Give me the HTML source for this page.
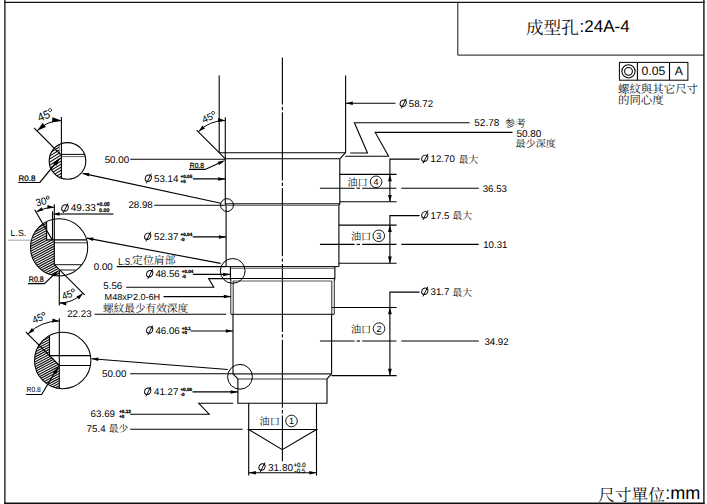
<!DOCTYPE html>
<html><head><meta charset="utf-8"><title>24A-4</title>
<style>
html,body{margin:0;padding:0;background:#fff;overflow:hidden}
svg{display:block}
text{font-family:"Liberation Sans","Noto Serif CJK SC","Noto Sans CJK TC",sans-serif;text-rendering:geometricPrecision}
</style></head><body>
<svg width="707" height="504" viewBox="0 0 707 504">
<rect width="707" height="504" fill="#fff"/>
<defs><clipPath id="k1"><circle cx="67.5" cy="160.9" r="18.3"/></clipPath><clipPath id="h1"><polygon points="40,135 59.3,135 59.3,152.8 61.4,154.6 61.4,185 40,185"/></clipPath><clipPath id="k2"><circle cx="59.1" cy="247.3" r="28.6"/></clipPath><clipPath id="h2"><polygon points="28,215 46.6,215 46.6,239.7 54.4,239.7 54.4,264.6 59.6,269.9 59.6,280 28,280"/></clipPath><clipPath id="k3"><circle cx="62.7" cy="360.5" r="28.2"/></clipPath><clipPath id="h3"><polygon points="30,330 49.5,330 49.5,355.6 59.4,365.5 59.4,392 30,392"/></clipPath></defs>
<line x1="4.90" y1="0.00" x2="4.90" y2="504.00" stroke="#111" stroke-width="1.3"/>
<line x1="703.90" y1="0.00" x2="703.90" y2="504.00" stroke="#111" stroke-width="1.4"/>
<line x1="4.30" y1="2.40" x2="704.60" y2="2.40" stroke="#111" stroke-width="1.2"/>
<line x1="4.30" y1="503.40" x2="704.60" y2="503.40" stroke="#111" stroke-width="1.6"/>
<path d="M457.80 2.40 L457.80 55.10 L704.00 55.10" stroke="#111" stroke-width="1" fill="none" stroke-linejoin="miter"/>
<text x="526.00" y="34.00" font-size="17.6" fill="#111">成型孔</text>
<text x="579.50" y="31.90" font-size="17" fill="#000">:24A-4</text>
<text x="598.20" y="500.70" font-size="16.7" fill="#111">尺寸單位</text>
<text x="665.20" y="499.40" font-size="18.1" fill="#000">:mm</text>
<rect x="619.4" y="62.4" width="68.5" height="17.8" fill="none" stroke="#000" stroke-width="1"/>
<line x1="637.40" y1="62.40" x2="637.40" y2="80.20" stroke="#000" stroke-width="1.1"/>
<line x1="669.50" y1="62.40" x2="669.50" y2="80.20" stroke="#000" stroke-width="1.1"/>
<circle cx="628.50" cy="71.30" r="6.60" stroke="#000" stroke-width="1.05" fill="none"/>
<circle cx="628.50" cy="71.30" r="3.90" stroke="#000" stroke-width="1.05" fill="none"/>
<text x="653.40" y="75.40" font-size="12.2" text-anchor="middle" fill="#000">0.05</text>
<text x="678.70" y="75.40" font-size="12.2" text-anchor="middle" fill="#000">A</text>
<text x="618.00" y="93.10" font-size="11.45" fill="#111">螺紋與其它尺寸</text>
<text x="618.00" y="104.20" font-size="11.45" fill="#111">的同心度</text>
<line x1="282.40" y1="57.6" x2="282.40" y2="461.3" stroke="#000" stroke-width="1.1" stroke-dasharray="68.1 2.2 3.4 2.1" stroke-dashoffset="21.1"/>
<line x1="219.20" y1="75.50" x2="219.20" y2="152.70" stroke="#000" stroke-width="1.1"/>
<line x1="345.60" y1="75.50" x2="345.60" y2="152.70" stroke="#000" stroke-width="1.1"/>
<line x1="219.20" y1="152.70" x2="345.60" y2="152.70" stroke="#000" stroke-width="1.1"/>
<line x1="219.20" y1="152.70" x2="225.30" y2="158.80" stroke="#000" stroke-width="1.1"/>
<line x1="345.60" y1="152.70" x2="339.80" y2="158.80" stroke="#000" stroke-width="1.1"/>
<line x1="225.30" y1="158.80" x2="339.80" y2="158.80" stroke="#000" stroke-width="1.1"/>
<line x1="225.30" y1="158.80" x2="225.30" y2="204.20" stroke="#000" stroke-width="1.1"/>
<line x1="339.80" y1="158.80" x2="339.80" y2="204.20" stroke="#000" stroke-width="1.1"/>
<line x1="225.30" y1="203.80" x2="339.80" y2="203.80" stroke="#000" stroke-width="1"/>
<line x1="226.10" y1="205.30" x2="338.90" y2="205.30" stroke="#555" stroke-width="1"/>
<line x1="225.30" y1="203.80" x2="226.10" y2="205.30" stroke="#000" stroke-width="1.1"/>
<line x1="339.80" y1="203.80" x2="338.90" y2="205.30" stroke="#000" stroke-width="1.1"/>
<line x1="226.10" y1="205.30" x2="226.10" y2="266.60" stroke="#000" stroke-width="1.1"/>
<line x1="338.90" y1="205.30" x2="338.90" y2="266.60" stroke="#000" stroke-width="1.1"/>
<line x1="226.10" y1="266.60" x2="338.90" y2="266.60" stroke="#000" stroke-width="1"/>
<line x1="230.40" y1="268.20" x2="334.90" y2="268.20" stroke="#555" stroke-width="1.1"/>
<line x1="230.40" y1="266.60" x2="230.40" y2="278.50" stroke="#000" stroke-width="1.1"/>
<line x1="334.90" y1="266.60" x2="334.90" y2="278.50" stroke="#000" stroke-width="1.1"/>
<line x1="230.40" y1="278.50" x2="334.90" y2="278.50" stroke="#000" stroke-width="1"/>
<line x1="233.10" y1="281.00" x2="331.90" y2="281.00" stroke="#555" stroke-width="1.1"/>
<line x1="230.40" y1="278.50" x2="231.00" y2="281.00" stroke="#000" stroke-width="1.1"/>
<line x1="334.90" y1="278.50" x2="334.10" y2="281.00" stroke="#000" stroke-width="1.1"/>
<line x1="230.80" y1="281.00" x2="230.80" y2="314.30" stroke="#1a1a1a" stroke-width="0.95"/>
<line x1="334.30" y1="281.00" x2="334.30" y2="314.30" stroke="#1a1a1a" stroke-width="0.95"/>
<line x1="233.20" y1="281.00" x2="233.20" y2="314.30" stroke="#1a1a1a" stroke-width="0.95"/>
<line x1="331.80" y1="281.00" x2="331.80" y2="314.30" stroke="#1a1a1a" stroke-width="0.95"/>
<line x1="231.00" y1="314.30" x2="334.10" y2="314.30" stroke="#000" stroke-width="1"/>
<line x1="233.00" y1="314.30" x2="233.00" y2="373.90" stroke="#000" stroke-width="1.1"/>
<line x1="331.60" y1="314.30" x2="331.60" y2="373.90" stroke="#000" stroke-width="1.1"/>
<line x1="233.00" y1="373.90" x2="331.60" y2="373.90" stroke="#222" stroke-width="1.1"/>
<line x1="233.00" y1="373.90" x2="237.90" y2="378.90" stroke="#000" stroke-width="1.1"/>
<line x1="331.60" y1="373.90" x2="327.00" y2="378.90" stroke="#000" stroke-width="1.1"/>
<line x1="237.90" y1="378.90" x2="327.00" y2="378.90" stroke="#3a3a3a" stroke-width="1.05"/>
<line x1="237.90" y1="378.90" x2="237.90" y2="403.30" stroke="#000" stroke-width="1.1"/>
<line x1="327.00" y1="378.90" x2="327.00" y2="403.30" stroke="#000" stroke-width="1.1"/>
<line x1="237.60" y1="403.30" x2="327.30" y2="403.30" stroke="#000" stroke-width="1.1"/>
<line x1="248.70" y1="403.30" x2="248.70" y2="475.60" stroke="#000" stroke-width="1.1"/>
<line x1="316.50" y1="403.30" x2="316.50" y2="475.60" stroke="#000" stroke-width="1.1"/>
<line x1="247.50" y1="429.50" x2="317.70" y2="429.50" stroke="#000" stroke-width="1.1"/>
<path d="M248.70 429.50 L282.30 449.70 L316.50 429.50" stroke="#000" stroke-width="1.1" fill="none" stroke-linejoin="miter"/>
<circle cx="227.00" cy="205.10" r="6.40" stroke="#000" stroke-width="1" fill="none"/>
<circle cx="232.70" cy="270.90" r="12.40" stroke="#000" stroke-width="1" fill="none"/>
<circle cx="240.00" cy="376.80" r="12.40" stroke="#000" stroke-width="1" fill="none"/>
<line x1="225.30" y1="117.30" x2="225.30" y2="158.80" stroke="#000" stroke-width="1.1"/>
<line x1="219.20" y1="152.70" x2="196.60" y2="130.20" stroke="#000" stroke-width="1.1"/>
<path d="M225.30 120.50 A38.20 38.20 0 0 0 198.29 131.69" fill="none" stroke="#000" stroke-width="1"/>
<polygon points="225.30,120.50 217.99,121.89 218.25,118.10" fill="#000"/>
<polygon points="198.29,131.69 202.48,125.53 204.97,128.40" fill="#000"/>
<g transform="translate(210.30 120.20) rotate(-24.0)"><text font-size="9.8" transform="translate(-7.25 0) scale(1 1)">45</text><circle cx="5.55" cy="-5.42" r="1.5" fill="none" stroke="#000" stroke-width="0.8"/></g>
<line x1="345.60" y1="103.30" x2="395.50" y2="103.30" stroke="#000" stroke-width="1.1"/>
<polygon points="345.60,103.30 352.80,101.55 352.80,105.05" fill="#000"/>
<ellipse cx="0" cy="0" rx="3.05" ry="3.2" fill="none" stroke="#000" stroke-width="0.95" transform="translate(403.20 103.20) skewX(-10)"/>
<line x1="401.30" y1="108.40" x2="406.20" y2="98.70" stroke="#000" stroke-width="0.95"/>
<text x="408.80" y="107.00" font-size="9.7" fill="#000">58.72</text>
<path d="M350.30 153.00 L367.50 153.00 L354.40 122.70 L469.60 122.70" stroke="#000" stroke-width="1.1" fill="none" stroke-linejoin="miter"/>
<text x="474.30" y="126.30" font-size="10" fill="#000">52.78</text>
<text x="504.80" y="127.00" font-size="10.5" fill="#111">参考</text>
<path d="M345.20 156.30 L388.60 156.30 L375.20 132.40 L512.50 132.40" stroke="#000" stroke-width="1.1" fill="none" stroke-linejoin="miter"/>
<text x="516.40" y="136.90" font-size="10" fill="#000">50.80</text>
<text x="515.60" y="147.30" font-size="10.05" fill="#111">最少深度</text>
<line x1="339.80" y1="174.40" x2="396.60" y2="174.40" stroke="#000" stroke-width="1.1"/>
<line x1="339.80" y1="201.70" x2="396.60" y2="201.70" stroke="#000" stroke-width="1.1"/>
<line x1="319.90" y1="188.20" x2="354.60" y2="188.20" stroke="#000" stroke-width="1.1"/>
<line x1="356.60" y1="188.20" x2="360.00" y2="188.20" stroke="#000" stroke-width="1.1"/>
<line x1="362.20" y1="188.20" x2="396.40" y2="188.20" stroke="#000" stroke-width="1.1"/>
<line x1="401.30" y1="188.20" x2="478.80" y2="188.20" stroke="#000" stroke-width="1.1"/>
<path d="M419.60 159.10 L389.90 159.10 L389.90 201.70" stroke="#000" stroke-width="1.1" fill="none" stroke-linejoin="miter"/>
<polygon points="389.90,174.40 391.80,181.20 388.00,181.20" fill="#000"/>
<polygon points="389.90,201.70 388.00,194.90 391.80,194.90" fill="#000"/>
<ellipse cx="0" cy="0" rx="3.05" ry="3.2" fill="none" stroke="#000" stroke-width="0.95" transform="translate(424.80 158.30) skewX(-10)"/>
<line x1="422.90" y1="163.50" x2="427.80" y2="153.80" stroke="#000" stroke-width="0.95"/>
<text x="430.60" y="162.00" font-size="9.7" fill="#000">12.70</text>
<text x="458.70" y="162.50" font-size="9.8" fill="#111">最大</text>
<text x="482.70" y="192.00" font-size="9.7" fill="#000">36.53</text>
<text x="347.40" y="186.40" font-size="10.2" fill="#111">油口</text>
<circle cx="376.10" cy="181.80" r="5.80" stroke="#000" stroke-width="0.9" fill="none"/>
<text x="376.10" y="185.00" font-size="9" text-anchor="middle" fill="#000">4</text>
<line x1="338.90" y1="225.10" x2="396.60" y2="225.10" stroke="#000" stroke-width="1.1"/>
<line x1="338.90" y1="263.30" x2="396.60" y2="263.30" stroke="#000" stroke-width="1.1"/>
<line x1="319.90" y1="244.40" x2="354.60" y2="244.40" stroke="#000" stroke-width="1.1"/>
<line x1="356.60" y1="244.40" x2="360.00" y2="244.40" stroke="#000" stroke-width="1.1"/>
<line x1="362.20" y1="244.40" x2="396.40" y2="244.40" stroke="#000" stroke-width="1.1"/>
<line x1="401.30" y1="244.40" x2="478.80" y2="244.40" stroke="#000" stroke-width="1.1"/>
<path d="M419.60 215.60 L389.90 215.60 L389.90 263.30" stroke="#000" stroke-width="1.1" fill="none" stroke-linejoin="miter"/>
<polygon points="389.90,225.10 391.80,231.90 388.00,231.90" fill="#000"/>
<polygon points="389.90,263.30 388.00,256.50 391.80,256.50" fill="#000"/>
<ellipse cx="0" cy="0" rx="3.05" ry="3.2" fill="none" stroke="#000" stroke-width="0.95" transform="translate(424.80 214.80) skewX(-10)"/>
<line x1="422.90" y1="220.00" x2="427.80" y2="210.30" stroke="#000" stroke-width="0.95"/>
<text x="430.60" y="218.50" font-size="9.7" fill="#000">17.5</text>
<text x="452.40" y="219.00" font-size="9.8" fill="#111">最大</text>
<text x="483.20" y="248.20" font-size="9.7" fill="#000">10.31</text>
<text x="350.90" y="240.40" font-size="10.2" fill="#111">油口</text>
<circle cx="378.80" cy="235.80" r="5.80" stroke="#000" stroke-width="0.9" fill="none"/>
<text x="378.80" y="239.00" font-size="9" text-anchor="middle" fill="#000">3</text>
<line x1="331.60" y1="307.50" x2="396.60" y2="307.50" stroke="#000" stroke-width="1.1"/>
<line x1="331.60" y1="375.60" x2="396.60" y2="375.60" stroke="#000" stroke-width="1.1"/>
<line x1="319.90" y1="341.00" x2="354.60" y2="341.00" stroke="#000" stroke-width="1.1"/>
<line x1="356.60" y1="341.00" x2="360.00" y2="341.00" stroke="#000" stroke-width="1.1"/>
<line x1="362.20" y1="341.00" x2="396.40" y2="341.00" stroke="#000" stroke-width="1.1"/>
<line x1="401.30" y1="341.00" x2="478.80" y2="341.00" stroke="#000" stroke-width="1.1"/>
<path d="M419.60 292.10 L389.90 292.10 L389.90 375.60" stroke="#000" stroke-width="1.1" fill="none" stroke-linejoin="miter"/>
<polygon points="389.90,307.50 391.80,314.30 388.00,314.30" fill="#000"/>
<polygon points="389.90,375.60 388.00,368.80 391.80,368.80" fill="#000"/>
<ellipse cx="0" cy="0" rx="3.05" ry="3.2" fill="none" stroke="#000" stroke-width="0.95" transform="translate(424.80 291.30) skewX(-10)"/>
<line x1="422.90" y1="296.50" x2="427.80" y2="286.80" stroke="#000" stroke-width="0.95"/>
<text x="430.60" y="295.00" font-size="9.7" fill="#000">31.7</text>
<text x="452.40" y="295.50" font-size="9.8" fill="#111">最大</text>
<text x="484.40" y="344.80" font-size="9.7" fill="#000">34.92</text>
<text x="350.90" y="333.20" font-size="10.2" fill="#111">油口</text>
<circle cx="379.00" cy="328.60" r="5.80" stroke="#000" stroke-width="0.9" fill="none"/>
<text x="379.00" y="331.80" font-size="9" text-anchor="middle" fill="#000">2</text>
<text x="259.60" y="424.60" font-size="10.2" fill="#111">油口</text>
<circle cx="291.50" cy="421.00" r="5.80" stroke="#000" stroke-width="0.9" fill="none"/>
<text x="291.50" y="424.20" font-size="9" text-anchor="middle" fill="#000">1</text>
<line x1="248.70" y1="472.80" x2="316.50" y2="472.80" stroke="#000" stroke-width="1.1"/>
<polygon points="248.70,472.80 255.90,471.05 255.90,474.55" fill="#000"/>
<polygon points="316.50,472.80 309.30,474.55 309.30,471.05" fill="#000"/>
<ellipse cx="0" cy="0" rx="3.05" ry="3.2" fill="none" stroke="#000" stroke-width="0.95" transform="translate(262.00 467.00) skewX(-10)"/>
<line x1="260.10" y1="472.20" x2="265.00" y2="462.50" stroke="#000" stroke-width="0.95"/>
<text x="268.00" y="470.70" font-size="10" fill="#000">31.80</text>
<text x="293.50" y="466.70" font-size="6.2" fill="#000" stroke="#000" stroke-width="0.15">+0.0</text>
<text x="294.60" y="472.50" font-size="6.2" fill="#000" stroke="#000" stroke-width="0.15">-0.5</text>
<text x="104.70" y="163.10" font-size="9.75" fill="#000">50.00</text>
<line x1="130.20" y1="159.20" x2="225.30" y2="159.20" stroke="#000" stroke-width="1.1"/>
<text x="189.80" y="167.90" font-size="7.5" fill="#000" textLength="14.2" lengthAdjust="spacingAndGlyphs" stroke="#000" stroke-width="0.25">R0.8</text>
<path d="M189.00 169.40 L205.10 169.40 L222.00 161.70" stroke="#000" stroke-width="1.15" fill="none" stroke-linejoin="miter"/>
<polygon points="225.20,160.30 219.21,165.01 217.72,161.73" fill="#000"/>
<ellipse cx="0" cy="0" rx="3.05" ry="3.2" fill="none" stroke="#000" stroke-width="0.95" transform="translate(148.30 178.20) skewX(-10)"/>
<line x1="146.40" y1="183.40" x2="151.30" y2="173.70" stroke="#000" stroke-width="0.95"/>
<text x="154.00" y="181.90" font-size="9.75" fill="#000">53.14</text>
<text x="180.60" y="177.90" font-size="4.6" font-weight="bold" fill="#000" stroke="#000" stroke-width="0.28">+0.05</text>
<text x="180.60" y="182.50" font-size="4.6" font-weight="bold" fill="#000" stroke="#000" stroke-width="0.28">+0</text>
<line x1="192.80" y1="178.90" x2="225.30" y2="178.90" stroke="#000" stroke-width="1.1"/>
<polygon points="225.30,178.90 218.10,180.65 218.10,177.15" fill="#000"/>
<text x="128.40" y="207.90" font-size="9.75" fill="#000">28.98</text>
<line x1="154.20" y1="205.20" x2="225.30" y2="205.20" stroke="#000" stroke-width="1.1"/>
<ellipse cx="0" cy="0" rx="3.05" ry="3.2" fill="none" stroke="#000" stroke-width="0.95" transform="translate(147.70 236.30) skewX(-10)"/>
<line x1="145.80" y1="241.50" x2="150.70" y2="231.80" stroke="#000" stroke-width="0.95"/>
<text x="154.00" y="240.00" font-size="9.75" fill="#000">52.37</text>
<text x="180.60" y="236.00" font-size="4.6" font-weight="bold" fill="#000" stroke="#000" stroke-width="0.28">+0.04</text>
<text x="180.60" y="240.60" font-size="4.6" font-weight="bold" fill="#000" stroke="#000" stroke-width="0.28">-0</text>
<line x1="192.80" y1="236.90" x2="226.10" y2="236.90" stroke="#000" stroke-width="1.1"/>
<polygon points="226.10,236.90 218.90,238.65 218.90,235.15" fill="#000"/>
<text x="93.80" y="269.90" font-size="9.75" fill="#000">0.00</text>
<line x1="116.70" y1="266.60" x2="226.10" y2="266.60" stroke="#000" stroke-width="1.1"/>
<text x="118.20" y="264.70" font-size="10.2" fill="#000" textLength="14.0" lengthAdjust="spacingAndGlyphs">L.S.</text>
<text x="132.00" y="264.20" font-size="10.9" fill="#111">定位肩部</text>
<ellipse cx="0" cy="0" rx="3.05" ry="3.2" fill="none" stroke="#000" stroke-width="0.95" transform="translate(149.70 273.70) skewX(-10)"/>
<line x1="147.80" y1="278.90" x2="152.70" y2="269.20" stroke="#000" stroke-width="0.95"/>
<text x="155.40" y="277.40" font-size="9.75" fill="#000">48.56</text>
<text x="181.80" y="273.40" font-size="4.6" font-weight="bold" fill="#000" stroke="#000" stroke-width="0.28">+0.04</text>
<text x="181.80" y="278.00" font-size="4.6" font-weight="bold" fill="#000" stroke="#000" stroke-width="0.28">-0</text>
<line x1="193.00" y1="274.40" x2="230.40" y2="274.40" stroke="#000" stroke-width="1.1"/>
<polygon points="230.40,274.40 223.20,276.15 223.20,272.65" fill="#000"/>
<text x="103.30" y="288.80" font-size="9.75" fill="#000">5.56</text>
<path d="M126.20 287.30 L213.80 287.30 L208.60 278.60 L230.40 278.60" stroke="#000" stroke-width="1.1" fill="none" stroke-linejoin="miter"/>
<text x="104.60" y="300.00" font-size="8.9" fill="#000" textLength="55.6" lengthAdjust="spacingAndGlyphs">M48xP2.0-6H</text>
<line x1="163.50" y1="296.60" x2="231.00" y2="296.60" stroke="#000" stroke-width="1.1"/>
<polygon points="231.00,296.60 223.80,298.35 223.80,294.85" fill="#000"/>
<text x="103.00" y="312.20" font-size="10.65" fill="#111">螺紋最少有效深度</text>
<text x="67.20" y="317.20" font-size="9.75" fill="#000">22.23</text>
<line x1="94.60" y1="314.20" x2="226.20" y2="314.20" stroke="#000" stroke-width="1.1"/>
<ellipse cx="0" cy="0" rx="3.05" ry="3.2" fill="none" stroke="#000" stroke-width="0.95" transform="translate(149.70 330.00) skewX(-10)"/>
<line x1="147.80" y1="335.20" x2="152.70" y2="325.50" stroke="#000" stroke-width="0.95"/>
<text x="155.40" y="333.70" font-size="9.75" fill="#000">46.06</text>
<text x="181.80" y="329.70" font-size="4.6" font-weight="bold" fill="#000" stroke="#000" stroke-width="0.28">+0.1</text>
<text x="181.80" y="334.30" font-size="4.6" font-weight="bold" fill="#000" stroke="#000" stroke-width="0.28">+0</text>
<line x1="190.80" y1="331.00" x2="233.00" y2="331.00" stroke="#000" stroke-width="1.1"/>
<polygon points="233.00,331.00 225.80,332.75 225.80,329.25" fill="#000"/>
<text x="102.00" y="377.00" font-size="9.75" fill="#000">50.00</text>
<line x1="130.20" y1="373.80" x2="233.00" y2="373.80" stroke="#000" stroke-width="1.1"/>
<ellipse cx="0" cy="0" rx="3.05" ry="3.2" fill="none" stroke="#000" stroke-width="0.95" transform="translate(147.70 391.30) skewX(-10)"/>
<line x1="145.80" y1="396.50" x2="150.70" y2="386.80" stroke="#000" stroke-width="0.95"/>
<text x="154.00" y="395.00" font-size="9.75" fill="#000">41.27</text>
<text x="180.40" y="391.00" font-size="4.6" font-weight="bold" fill="#000" stroke="#000" stroke-width="0.28">+0.06</text>
<text x="180.40" y="395.60" font-size="4.6" font-weight="bold" fill="#000" stroke="#000" stroke-width="0.28">-0</text>
<line x1="192.50" y1="391.90" x2="237.90" y2="391.90" stroke="#000" stroke-width="1.1"/>
<polygon points="237.90,391.90 230.70,393.65 230.70,390.15" fill="#000"/>
<text x="90.60" y="417.20" font-size="9.75" fill="#000">63.69</text>
<text x="119.20" y="413.20" font-size="4.6" font-weight="bold" fill="#000" stroke="#000" stroke-width="0.28">+0.13</text>
<text x="119.20" y="417.80" font-size="4.6" font-weight="bold" fill="#000" stroke="#000" stroke-width="0.28">+0</text>
<path d="M130.20 414.20 L209.20 414.20 L198.80 403.30 L233.20 403.30" stroke="#000" stroke-width="1.1" fill="none" stroke-linejoin="miter"/>
<text x="86.60" y="431.90" font-size="9.75" fill="#000">75.4</text>
<text x="108.80" y="432.30" font-size="9.8" fill="#111">最少</text>
<line x1="130.20" y1="429.20" x2="242.60" y2="429.20" stroke="#000" stroke-width="1.1"/>
<line x1="82.60" y1="173.40" x2="220.90" y2="203.20" stroke="#000" stroke-width="1.1"/>
<polygon points="82.30,173.30 89.51,173.07 88.77,176.49" fill="#000"/>
<line x1="86.80" y1="238.10" x2="220.60" y2="263.40" stroke="#000" stroke-width="1.1"/>
<polygon points="86.40,238.00 93.60,237.57 92.96,241.01" fill="#000"/>
<line x1="91.60" y1="358.80" x2="227.80" y2="369.50" stroke="#000" stroke-width="1.1"/>
<polygon points="91.30,358.70 98.42,357.50 98.14,360.99" fill="#000"/>
<g clip-path="url(#k1)">
<g clip-path="url(#h1)" stroke="#111" stroke-width="1.05">
<line x1="45.00" y1="140.60" x2="63.00" y2="129.44"/>
<line x1="45.00" y1="143.65" x2="63.00" y2="132.49"/>
<line x1="45.00" y1="146.70" x2="63.00" y2="135.54"/>
<line x1="45.00" y1="149.75" x2="63.00" y2="138.59"/>
<line x1="45.00" y1="152.80" x2="63.00" y2="141.64"/>
<line x1="45.00" y1="155.85" x2="63.00" y2="144.69"/>
<line x1="45.00" y1="158.90" x2="63.00" y2="147.74"/>
<line x1="45.00" y1="161.95" x2="63.00" y2="150.79"/>
<line x1="45.00" y1="165.00" x2="63.00" y2="153.84"/>
<line x1="45.00" y1="168.05" x2="63.00" y2="156.89"/>
<line x1="45.00" y1="171.10" x2="63.00" y2="159.94"/>
<line x1="45.00" y1="174.15" x2="63.00" y2="162.99"/>
<line x1="45.00" y1="177.20" x2="63.00" y2="166.04"/>
<line x1="45.00" y1="180.25" x2="63.00" y2="169.09"/>
<line x1="45.00" y1="183.30" x2="63.00" y2="172.14"/>
<line x1="45.00" y1="186.35" x2="63.00" y2="175.19"/>
<line x1="45.00" y1="189.40" x2="63.00" y2="178.24"/>
<line x1="45.00" y1="192.45" x2="63.00" y2="181.29"/>
</g>
<line x1="61.40" y1="154.40" x2="90.00" y2="154.40" stroke="#000" stroke-width="1"/>
<line x1="61.40" y1="156.60" x2="90.00" y2="156.60" stroke="#222" stroke-width="0.7"/>
<line x1="59.30" y1="140.00" x2="59.30" y2="152.90" stroke="#555" stroke-width="0.7"/>
</g>
<circle cx="67.50" cy="160.90" r="18.30" stroke="#000" stroke-width="1.1" fill="none"/>
<line x1="61.40" y1="116.90" x2="61.40" y2="179.00" stroke="#000" stroke-width="1.1"/>
<line x1="34.00" y1="127.90" x2="60.60" y2="154.50" stroke="#000" stroke-width="1.1"/>
<path d="M61.40 120.60 A34.60 34.60 0 0 0 36.93 130.73" fill="none" stroke="#000" stroke-width="1"/>
<polygon points="61.40,120.60 52.01,122.39 52.46,117.21" fill="#000"/>
<polygon points="37.13,130.73 42.65,122.92 45.92,126.97" fill="#000"/>
<g transform="translate(46.90 118.70) rotate(-23.0)"><text font-size="11.6" transform="translate(-7.99 0) scale(0.96 1)">45</text><circle cx="6.29" cy="-6.71" r="1.5" fill="none" stroke="#000" stroke-width="0.8"/></g>
<text x="18.60" y="180.90" font-size="8" fill="#000" textLength="16.8" lengthAdjust="spacingAndGlyphs" stroke="#000" stroke-width="0.25">R0.8</text>
<path d="M18.40 182.50 L39.90 182.50 L57.40 161.00" stroke="#000" stroke-width="1.2" fill="none" stroke-linejoin="miter"/>
<polygon points="60.40,157.30 56.45,165.68 53.03,162.91" fill="#000"/>
<g clip-path="url(#k2)">
<g clip-path="url(#h2)" stroke="#111" stroke-width="1.15">
<line x1="29.00" y1="217.90" x2="62.00" y2="200.41"/>
<line x1="29.00" y1="220.35" x2="62.00" y2="202.86"/>
<line x1="29.00" y1="222.80" x2="62.00" y2="205.31"/>
<line x1="29.00" y1="225.25" x2="62.00" y2="207.76"/>
<line x1="29.00" y1="227.70" x2="62.00" y2="210.21"/>
<line x1="29.00" y1="230.15" x2="62.00" y2="212.66"/>
<line x1="29.00" y1="232.60" x2="62.00" y2="215.11"/>
<line x1="29.00" y1="235.05" x2="62.00" y2="217.56"/>
<line x1="29.00" y1="237.50" x2="62.00" y2="220.01"/>
<line x1="29.00" y1="239.95" x2="62.00" y2="222.46"/>
<line x1="29.00" y1="242.40" x2="62.00" y2="224.91"/>
<line x1="29.00" y1="244.85" x2="62.00" y2="227.36"/>
<line x1="29.00" y1="247.30" x2="62.00" y2="229.81"/>
<line x1="29.00" y1="249.75" x2="62.00" y2="232.26"/>
<line x1="29.00" y1="252.20" x2="62.00" y2="234.71"/>
<line x1="29.00" y1="254.65" x2="62.00" y2="237.16"/>
<line x1="29.00" y1="257.10" x2="62.00" y2="239.61"/>
<line x1="29.00" y1="259.55" x2="62.00" y2="242.06"/>
<line x1="29.00" y1="262.00" x2="62.00" y2="244.51"/>
<line x1="29.00" y1="264.45" x2="62.00" y2="246.96"/>
<line x1="29.00" y1="266.90" x2="62.00" y2="249.41"/>
<line x1="29.00" y1="269.35" x2="62.00" y2="251.86"/>
<line x1="29.00" y1="271.80" x2="62.00" y2="254.31"/>
<line x1="29.00" y1="274.25" x2="62.00" y2="256.76"/>
<line x1="29.00" y1="276.70" x2="62.00" y2="259.21"/>
<line x1="29.00" y1="279.15" x2="62.00" y2="261.66"/>
<line x1="29.00" y1="281.60" x2="62.00" y2="264.11"/>
<line x1="29.00" y1="284.05" x2="62.00" y2="266.56"/>
<line x1="29.00" y1="286.50" x2="62.00" y2="269.01"/>
<line x1="29.00" y1="288.95" x2="62.00" y2="271.46"/>
<line x1="29.00" y1="291.40" x2="62.00" y2="273.91"/>
<line x1="29.00" y1="293.85" x2="62.00" y2="276.36"/>
</g>
</g>
<circle cx="59.10" cy="247.30" r="28.60" stroke="#000" stroke-width="1.05" fill="none"/>
<line x1="7.70" y1="240.20" x2="30.80" y2="240.20" stroke="#999" stroke-width="0.9"/>
<text x="10.60" y="236.20" font-size="8.8" fill="#000">L.S.</text>
<g clip-path="url(#k2)">
<line x1="46.60" y1="215.00" x2="46.60" y2="239.70" stroke="#000" stroke-width="1.1"/>
<line x1="46.60" y1="239.90" x2="90.00" y2="239.90" stroke="#000" stroke-width="1.1"/>
<line x1="54.40" y1="242.80" x2="90.00" y2="242.80" stroke="#222" stroke-width="0.9"/>
<line x1="54.40" y1="264.70" x2="90.00" y2="264.70" stroke="#111" stroke-width="1"/>
<line x1="59.60" y1="269.90" x2="80.00" y2="269.90" stroke="#666" stroke-width="1.5"/>
</g>
<line x1="54.30" y1="204.20" x2="54.30" y2="264.70" stroke="#000" stroke-width="1.1"/>
<line x1="52.50" y1="211.30" x2="52.50" y2="239.90" stroke="#000" stroke-width="1.1"/>
<line x1="34.70" y1="209.80" x2="51.90" y2="239.40" stroke="#000" stroke-width="1.1"/>
<line x1="54.40" y1="264.60" x2="84.60" y2="294.80" stroke="#000" stroke-width="1.1"/>
<line x1="59.30" y1="270.80" x2="59.30" y2="305.40" stroke="#000" stroke-width="1.1"/>
<path d="M54.30 207.25 A36.40 36.40 0 0 0 36.10 212.13" fill="none" stroke="#000" stroke-width="1"/>
<polygon points="54.30,207.25 47.29,208.56 47.54,204.97" fill="#000"/>
<polygon points="36.10,211.63 41.75,207.27 43.15,210.59" fill="#000"/>
<g transform="translate(43.80 204.70) rotate(-14.0)"><text font-size="10.5" transform="translate(-7.17 0) scale(0.92 1)">30</text><circle cx="5.47" cy="-5.92" r="1.5" fill="none" stroke="#000" stroke-width="0.8"/></g>
<line x1="58.00" y1="214.00" x2="113.50" y2="214.00" stroke="#444" stroke-width="1.35"/>
<polygon points="52.50,214.00 59.50,212.20 59.50,215.80" fill="#000"/>
<ellipse cx="0" cy="0" rx="3.25" ry="3.15" fill="none" stroke="#000" stroke-width="0.95" transform="translate(65.00 207.90) skewX(-10)"/>
<line x1="63.10" y1="213.10" x2="68.00" y2="203.40" stroke="#000" stroke-width="0.95"/>
<text x="70.80" y="211.30" font-size="10" fill="#000">49.33</text>
<text x="96.40" y="206.00" font-size="5.3" font-weight="bold" fill="#000" stroke="#000" stroke-width="0.2">+0.05</text>
<text x="99.10" y="211.70" font-size="5.3" font-weight="bold" fill="#000" stroke="#000" stroke-width="0.2">0.00</text>
<path d="M59.30 303.00 A33.00 33.00 0 0 0 82.63 293.33" fill="none" stroke="#000" stroke-width="1"/>
<polygon points="59.30,303.00 66.44,301.72 66.11,305.50" fill="#000"/>
<polygon points="83.03,293.53 78.89,299.49 76.45,296.58" fill="#000"/>
<g transform="translate(70.00 297.60) rotate(-21.0)"><text font-size="10.2" transform="translate(-6.90 0) scale(0.9 1)">45</text><circle cx="5.20" cy="-5.70" r="1.5" fill="none" stroke="#000" stroke-width="0.8"/></g>
<text x="28.80" y="281.90" font-size="8" fill="#000" textLength="15.0" lengthAdjust="spacingAndGlyphs" stroke="#000" stroke-width="0.25">R0.8</text>
<path d="M28.00 283.60 L44.40 283.60 L55.00 273.60" stroke="#000" stroke-width="1.2" fill="none" stroke-linejoin="miter"/>
<polygon points="58.30,270.80 54.60,276.55 52.19,273.88" fill="#000"/>
<g clip-path="url(#k3)">
<g clip-path="url(#h3)" stroke="#111" stroke-width="1.15">
<line x1="32.00" y1="331.60" x2="62.00" y2="315.70"/>
<line x1="32.00" y1="334.05" x2="62.00" y2="318.15"/>
<line x1="32.00" y1="336.50" x2="62.00" y2="320.60"/>
<line x1="32.00" y1="338.95" x2="62.00" y2="323.05"/>
<line x1="32.00" y1="341.40" x2="62.00" y2="325.50"/>
<line x1="32.00" y1="343.85" x2="62.00" y2="327.95"/>
<line x1="32.00" y1="346.30" x2="62.00" y2="330.40"/>
<line x1="32.00" y1="348.75" x2="62.00" y2="332.85"/>
<line x1="32.00" y1="351.20" x2="62.00" y2="335.30"/>
<line x1="32.00" y1="353.65" x2="62.00" y2="337.75"/>
<line x1="32.00" y1="356.10" x2="62.00" y2="340.20"/>
<line x1="32.00" y1="358.55" x2="62.00" y2="342.65"/>
<line x1="32.00" y1="361.00" x2="62.00" y2="345.10"/>
<line x1="32.00" y1="363.45" x2="62.00" y2="347.55"/>
<line x1="32.00" y1="365.90" x2="62.00" y2="350.00"/>
<line x1="32.00" y1="368.35" x2="62.00" y2="352.45"/>
<line x1="32.00" y1="370.80" x2="62.00" y2="354.90"/>
<line x1="32.00" y1="373.25" x2="62.00" y2="357.35"/>
<line x1="32.00" y1="375.70" x2="62.00" y2="359.80"/>
<line x1="32.00" y1="378.15" x2="62.00" y2="362.25"/>
<line x1="32.00" y1="380.60" x2="62.00" y2="364.70"/>
<line x1="32.00" y1="383.05" x2="62.00" y2="367.15"/>
<line x1="32.00" y1="385.50" x2="62.00" y2="369.60"/>
<line x1="32.00" y1="387.95" x2="62.00" y2="372.05"/>
<line x1="32.00" y1="390.40" x2="62.00" y2="374.50"/>
<line x1="32.00" y1="392.85" x2="62.00" y2="376.95"/>
<line x1="32.00" y1="395.30" x2="62.00" y2="379.40"/>
<line x1="32.00" y1="397.75" x2="62.00" y2="381.85"/>
<line x1="32.00" y1="400.20" x2="62.00" y2="384.30"/>
<line x1="32.00" y1="402.65" x2="62.00" y2="386.75"/>
<line x1="32.00" y1="405.10" x2="62.00" y2="389.20"/>
</g>
</g>
<circle cx="62.70" cy="360.50" r="28.20" stroke="#000" stroke-width="1.05" fill="none"/>
<line x1="59.30" y1="318.20" x2="59.30" y2="388.60" stroke="#000" stroke-width="1.1"/>
<g clip-path="url(#k3)">
<line x1="49.50" y1="330.00" x2="49.50" y2="355.60" stroke="#000" stroke-width="1.1"/>
<line x1="49.50" y1="355.60" x2="95.00" y2="355.60" stroke="#000" stroke-width="1.1"/>
<line x1="59.40" y1="365.50" x2="95.00" y2="365.50" stroke="#000" stroke-width="1.1"/>
</g>
<line x1="25.80" y1="331.90" x2="59.40" y2="365.50" stroke="#000" stroke-width="1.1"/>
<path d="M59.30 321.00 A44.50 44.50 0 0 0 27.83 334.03" fill="none" stroke="#000" stroke-width="1"/>
<polygon points="59.30,321.00 52.18,322.41 52.45,318.62" fill="#000"/>
<polygon points="27.83,334.03 31.92,328.04 34.39,330.93" fill="#000"/>
<g transform="translate(40.50 321.10) rotate(-22.0)"><text font-size="10.2" transform="translate(-7.02 0) scale(0.92 1)">45</text><circle cx="5.32" cy="-5.70" r="1.5" fill="none" stroke="#000" stroke-width="0.8"/></g>
<text x="26.50" y="392.40" font-size="7.4" fill="#000" textLength="14.4" lengthAdjust="spacingAndGlyphs">R0.8</text>
<path d="M26.00 394.50 L41.60 394.50 L55.00 372.40" stroke="#000" stroke-width="1.1" fill="none" stroke-linejoin="miter"/>
<polygon points="59.00,365.90 56.11,374.45 52.70,372.36" fill="#000"/>
</svg>
</body></html>
